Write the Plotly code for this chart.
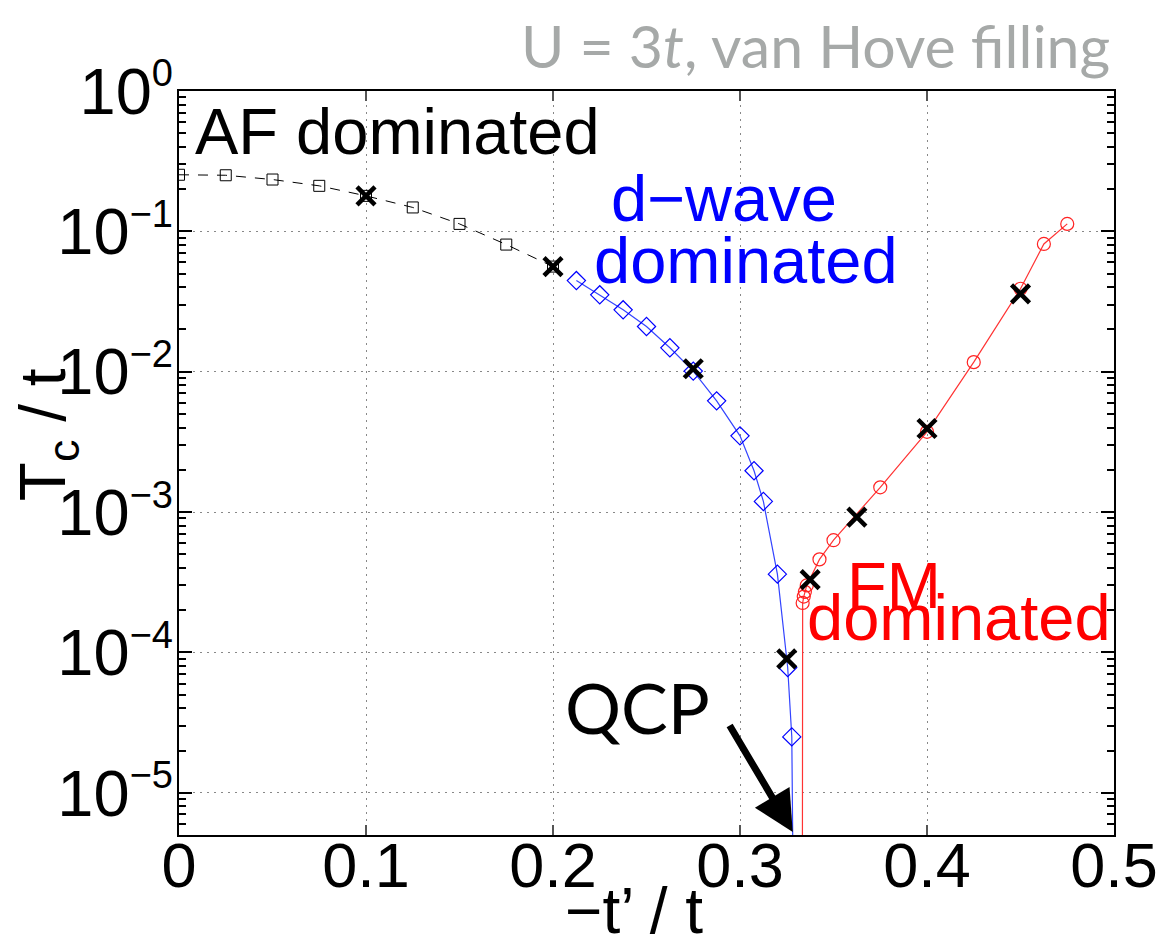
import numpy as np
import plotly.graph_objects as go

# Critical temperatures T_c/t versus -t'/t at U = 3t, van Hove filling
af_x = [0.0, 0.025, 0.05, 0.075, 0.1, 0.125, 0.15, 0.175, 0.2]
af_tc = [0.253, 0.251, 0.234, 0.211, 0.179, 0.148, 0.113, 0.0805, 0.0561]

dw_x = [0.2125, 0.225, 0.2375, 0.25, 0.2625, 0.275, 0.2875, 0.3, 0.3075,
        0.3125, 0.32, 0.3255, 0.3277, 0.33]
dw_tc = [0.0446, 0.0353, 0.0276, 0.0210, 0.0148, 0.0101, 0.0062, 0.00349,
         0.00197, 0.00119, 3.61e-4, 7.8e-5, 2.5e-5, 1e-8]

fm_x = [0.3332, 0.3335, 0.3341, 0.3347, 0.3357, 0.3425, 0.35, 0.375, 0.4,
        0.425, 0.45, 0.4625, 0.475]
fm_tc = [1e-8, 2.25e-4, 2.5e-4, 2.7e-4, 3.0e-4, 4.6e-4, 6.3e-4, 1.5e-3,
         3.73e-3, 0.0117, 0.039, 0.0813, 0.113]

# independent checks
chk_x = [0.1, 0.2, 0.275, 0.325, 0.3375, 0.3625, 0.4, 0.45]
chk_tc = [0.179, 0.0561, 0.0105, 9.0e-5, 3.3e-4, 9.2e-4, 3.94e-3, 0.0359]

x_ticks = [0, 0.1, 0.2, 0.3, 0.4, 0.5]
x_tick_text = ["0", "0.1", "0.2", "0.3", "0.4", "0.5"]
y_exponents = [0, -1, -2, -3, -4, -5]

W, H = 1170, 937
ML, MR, MT, MB = 179, 48, 91, 102
PW, PH = W - ML - MR, H - MT - MB


def px(xp, yp):
    """pixel position -> paper coordinates"""
    return (xp - ML) / PW, (H - MB - yp) / PH


FONT = "Liberation Sans, Arial, sans-serif"
GILL = "Lato, Open Sans, sans-serif"

fig = go.Figure()

fig.add_trace(go.Scatter(
    x=af_x, y=af_tc, mode="lines+markers",
    line=dict(color="black", width=1, dash="10px,9px"),
    marker=dict(symbol="square-open", size=11, color="black", line=dict(width=1)),
    cliponaxis=True, showlegend=False))

fig.add_trace(go.Scatter(
    x=dw_x, y=dw_tc, mode="lines+markers",
    line=dict(color="#3344ff", width=1.2),
    marker=dict(symbol="diamond-open", size=14, color="#0000ff", line=dict(width=1.2)),
    showlegend=False))

fig.add_trace(go.Scatter(
    x=fm_x, y=fm_tc, mode="lines+markers",
    line=dict(color="#ff3333", width=1.2),
    marker=dict(symbol="circle-open", size=13, color="#ff2222", line=dict(width=1.2)),
    showlegend=False))

fig.add_trace(go.Scatter(
    x=chk_x, y=chk_tc, mode="markers",
    marker=dict(symbol="x-thin", size=18, color="black",
                line=dict(width=4.5, color="black")),
    showlegend=False))

y_vals = [10.0 ** e for e in y_exponents]
y_text = ["10<sup><span style='font-size:38px'>%s</span></sup>"
          % (str(e) if e >= 0 else "\u2212" + str(-e)) for e in y_exponents]
minor_vals = [m * 10.0 ** k for k in range(-6, 0) for m in range(2, 10) if m * 10.0 ** k >= 5e-6]

fig.update_xaxes(
    range=[0, 0.5], tickmode="array", tickvals=x_ticks, ticktext=x_tick_text,
    ticks="inside", ticklen=10, tickcolor="#555", tickwidth=1.5,
    ticklabelstandoff=-26,
    showline=True, linecolor="black", linewidth=2, mirror="ticks",
    showgrid=True, gridcolor="#888", gridwidth=1.3, griddash="2px,5px",
    zeroline=False, tickfont=dict(family=FONT, size=63, color="black"))

fig.update_yaxes(
    type="log", range=[np.log10(5e-6), 0], tickmode="array",
    tickvals=y_vals, ticktext=y_text,
    ticks="inside", ticklen=13, tickcolor="black", tickwidth=1.5,
    ticklabelstandoff=-9,
    minor=dict(tickmode="array", tickvals=minor_vals, ticks="inside",
               ticklen=7, tickcolor="black", tickwidth=1.5, showgrid=False),
    showline=True, linecolor="black", linewidth=2, mirror="ticks",
    showgrid=True, gridcolor="#888", gridwidth=1.3, griddash="2px,5px",
    zeroline=False, tickfont=dict(family=FONT, size=65, color="black"))

annotations = []


def add_text(text, xp, yp, size, color, family=FONT, xanchor="center", angle=0):
    x, y = px(xp, yp)
    annotations.append(dict(
        text=text, x=x, y=y, xref="paper", yref="paper", showarrow=False,
        xanchor=xanchor, yanchor="middle", textangle=angle,
        font=dict(family=family, size=size, color=color)))


add_text("AF dominated", 193, 132, 65, "black", xanchor="left")
add_text("d\u2212wave", 729, 198, 65, "#0000ff")
add_text("dominated", 751, 260, 65, "#0000ff")
add_text("FM", 900, 585, 65, "#ff0000")
add_text("dominated", 966, 617, 65, "#ff0000")
add_text("QCP", 641, 707, 70, "black", family=GILL)
add_text("U = 3<i>t</i>, van Hove filling", 1120, 45, 59, "#a6a9a8",
         family=GILL, xanchor="right")
add_text("T<sub>c</sub> / t", 46, 435, 64, "black", angle=-90)
add_text("\u2212t\u2019 / t", 638, 911, 64, "black")

# arrow pointing at the quantum critical point
tip_x, tip_y = px(798, 832)
annotations.append(dict(
    x=tip_x, y=tip_y, ax=734 - 798, ay=724 - 832, xref="paper", yref="paper",
    axref="pixel", ayref="pixel", text="", showarrow=True,
    arrowhead=2, arrowsize=1.15, arrowwidth=7, arrowcolor="black", standoff=0))

fig.update_layout(
    width=W, height=H, margin=dict(l=ML, r=MR, t=MT, b=MB),
    paper_bgcolor="white", plot_bgcolor="white",
    annotations=annotations, showlegend=False)

fig.write_html("out.html")
